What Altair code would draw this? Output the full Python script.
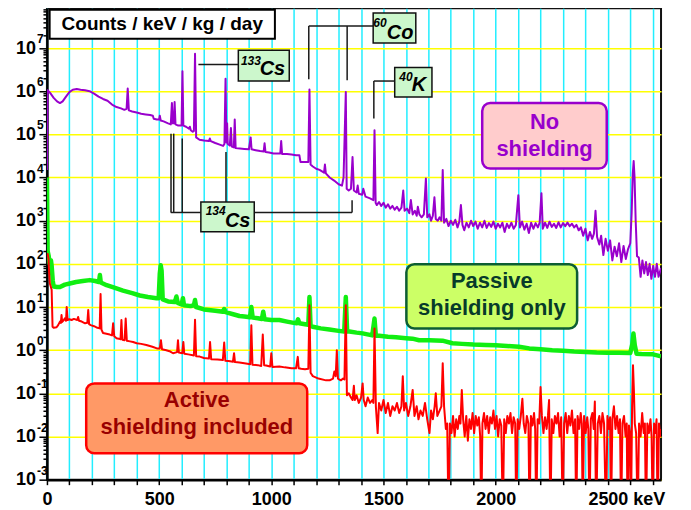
import altair as alt
import pandas as pd

# ---------------- spectra (energy keV, counts/keV/kg/day) ----------------
NO_SHIELD = [
    (0, 1.5e4), (3, 1.05e6), (15, 9.0e5), (30, 7.0e5), (45, 5.8e5), (58, 5.3e5), (70, 5.8e5),
    (85, 7.5e5), (100, 9.5e5), (115, 1.08e6), (133, 1.12e6), (150, 1.08e6), (170, 1.05e6),
    (190, 1.0e6), (210, 8.8e5), (230, 7.5e5), (250, 6.6e5), (270, 6.0e5), (290, 4.9e5),
    (310, 4.3e5), (330, 4.0e5), (345, 3.7e5), (355, 3.9e5), (360, 1.15e6), (365, 3.6e5),
    (380, 3.4e5), (400, 3.2e5), (420, 3.0e5), (440, 2.9e5), (460, 2.8e5), (472, 2.7e5),
    (476, 2.3e5), (490, 2.2e5), (500, 2.2e5), (503, 2.7e5), (507, 2.1e5), (520, 2.0e5),
    (540, 1.8e5), (552, 1.7e5), (557, 5.3e5), (561, 1.8e5), (566, 1.8e5), (569, 5.6e5),
    (573, 1.7e5), (585, 1.6e5), (600, 1.6e5), (604, 2.9e6), (608, 1.6e5), (620, 1.5e5),
    (633, 1.35e5), (637, 1.5e5), (641, 1.25e5), (650, 1.15e5), (655, 1.2e5), (660, 7.4e6),
    (665, 8.5e4), (680, 7.5e4), (700, 7.2e4), (722, 7.0e4), (726, 8.0e4), (730, 7.0e4),
    (750, 6.3e4), (770, 5.8e4), (785, 5.4e4), (791, 6.0e4), (796, 1.95e6), (800, 6.5e4),
    (803, 1.8e5), (806, 6.0e4), (815, 5.5e4), (820, 1.4e5), (824, 5.2e4), (833, 5.0e4),
    (837, 2.2e5), (841, 4.8e4), (860, 4.7e4), (880, 4.6e4), (900, 4.5e4), (908, 8.5e4),
    (912, 4.5e4), (930, 4.3e4), (950, 4.1e4), (966, 4.0e4), (970, 6.2e4), (974, 3.9e4),
    (990, 3.8e4), (1010, 3.6e4), (1030, 3.6e4), (1040, 3.6e4), (1044, 7.0e4), (1048, 3.5e4),
    (1070, 3.5e4), (1090, 3.4e4), (1110, 3.3e4), (1125, 3.3e4), (1130, 2.3e4), (1150, 2.3e4),
    (1165, 2.3e4), (1170, 1.1e6), (1175, 2.0e4), (1185, 1.8e4), (1200, 1.6e4), (1215, 1.5e4),
    (1235, 1.3e4), (1239, 2.0e4), (1243, 1.25e4), (1260, 1.0e4), (1280, 8.5e3), (1300, 7.0e3),
    (1315, 6.5e3), (1322, 1.0e4), (1332, 9.6e5), (1336, 5.5e3), (1345, 5.0e3), (1355, 5.5e3),
    (1362, 3.0e4), (1368, 5.0e3), (1380, 4.5e3), (1385, 6.5e3), (1390, 4.2e3), (1405, 4.0e3),
    (1410, 5.5e3), (1420, 3.6e3), (1440, 3.3e3), (1455, 3.0e3), (1460, 1.25e5), (1465, 2.6e3),
    (1470, 2.3e3), (1480, 2.7e3), (1490, 2.2e3), (1500, 2.6e3), (1510, 2.0e3), (1520, 2.4e3),
    (1530, 1.9e3), (1540, 2.2e3), (1550, 1.8e3), (1560, 2.1e3), (1570, 1.7e3), (1580, 2.0e3),
    (1588, 5.0e3), (1594, 1.7e3), (1605, 1.9e3), (1615, 1.5e3), (1622, 3.0e3), (1630, 1.4e3),
    (1640, 1.7e3), (1648, 1.3e3), (1653, 2.1e3), (1660, 1.4e3), (1670, 1.2e3), (1680, 1.4e3),
    (1689, 9.5e3), (1695, 1.2e3), (1705, 1.4e3), (1712, 1.0e3), (1720, 1.3e3), (1727, 3.5e3),
    (1733, 1.1e3), (1742, 1.0e3), (1750, 1.2e3), (1758, 1.0e3), (1764, 1.5e4), (1770, 9.0e2),
    (1780, 1.1e3), (1790, 7.5e2), (1800, 1.0e3), (1810, 8.0e2), (1820, 1.05e3), (1830, 7.0e2),
    (1838, 9.5e2), (1845, 2.3e3), (1852, 8.0e2), (1860, 6.0e2), (1870, 9.0e2), (1880, 7.0e2),
    (1890, 1.0e3), (1900, 7.5e2), (1910, 9.5e2), (1920, 6.5e2), (1930, 9.0e2), (1940, 7.0e2),
    (1950, 1.0e3), (1960, 6.8e2), (1970, 8.8e2), (1980, 7.2e2), (1990, 9.5e2), (2000, 6.5e2),
    (2010, 8.5e2), (2020, 7.0e2), (2030, 9.0e2), (2040, 5.5e2), (2050, 8.5e2), (2060, 6.8e2),
    (2070, 9.0e2), (2080, 6.5e2), (2090, 8.0e2), (2101, 3.9e3), (2108, 7.0e2), (2118, 9.5e2),
    (2128, 6.2e2), (2138, 8.5e2), (2148, 5.2e2), (2158, 9.0e2), (2168, 6.5e2), (2178, 8.8e2),
    (2188, 7.0e2), (2196, 9.0e2), (2204, 4.3e3), (2210, 6.5e2), (2220, 9.0e2), (2230, 6.8e2),
    (2240, 9.5e2), (2250, 7.2e2), (2260, 8.5e2), (2270, 6.8e2), (2280, 9.2e2), (2290, 7.0e2),
    (2300, 8.8e2), (2310, 7.5e2), (2320, 9.0e2), (2330, 7.5e2), (2340, 8.5e2), (2350, 7.0e2),
    (2360, 8.0e2), (2370, 6.0e2), (2380, 7.0e2), (2390, 4.5e2), (2400, 6.5e2), (2410, 3.5e2),
    (2420, 5.5e2), (2430, 3.8e2), (2438, 5.0e2), (2445, 1.7e3), (2452, 4.2e2), (2462, 2.8e2),
    (2470, 4.5e2), (2480, 1.6e2), (2490, 3.8e2), (2500, 2.0e2), (2510, 3.5e2), (2520, 1.2e2),
    (2530, 2.5e2), (2540, 1.5e2), (2550, 3.0e2), (2560, 1.1e2), (2570, 2.6e2), (2580, 1.3e2),
    (2590, 2.2e2), (2600, 3.0e2), (2606, 1.5e3), (2611, 1.2e4), (2615, 2.4e4), (2619, 1.0e4),
    (2624, 1.0e3), (2630, 1.5e2), (2638, 1.4e2), (2646, 5.0e1), (2654, 1.2e2), (2662, 6.0e1),
    (2670, 1.1e2), (2678, 5.5e1), (2686, 1.0e2), (2694, 4.5e1), (2702, 9.0e1), (2710, 5.0e1),
    (2718, 1.0e2), (2726, 5.0e1), (2737, 8.0e1),
]

PASSIVE = [
    (0, 1.0e4), (3, 2.0e2), (8, 1.5e2), (12, 1.0e2), (18, 1.2e2), (21, 9.0e1), (26, 4.0e1),
    (30, 3.0e1), (45, 2.9e1), (58, 2.9e1), (80, 3.3e1), (102, 3.5e1), (130, 3.8e1),
    (160, 4.0e1), (191, 4.2e1), (215, 4.0e1), (232, 3.8e1), (236, 5.5e1), (240, 3.7e1),
    (266, 3.2e1), (300, 2.8e1), (339, 2.4e1), (380, 2.1e1), (414, 1.85e1), (450, 1.7e1),
    (488, 1.6e1), (498, 1.6e1), (503, 6.0e1), (507, 9.3e1), (511, 7.0e1), (516, 1.5e1),
    (540, 1.35e1), (570, 1.3e1), (577, 1.75e1), (583, 1.25e1), (600, 1.15e1), (606, 1.6e1),
    (611, 1.1e1), (640, 1.05e1), (655, 1.1e1), (660, 1.45e1), (665, 1.0e1), (700, 8.8),
    (750, 8.2), (784, 7.8), (790, 9.0), (796, 7.6), (830, 6.8), (858, 6.2), (880, 6.0),
    (905, 5.8), (911, 10.0), (917, 5.7), (940, 5.5), (958, 5.3), (964, 7.8), (970, 5.2),
    (1000, 5.0), (1036, 5.0), (1070, 4.6), (1100, 4.3), (1113, 4.2), (1119, 5.2), (1125, 4.2),
    (1150, 4.0), (1165, 3.9), (1170, 17.0), (1175, 3.6), (1185, 3.5), (1220, 3.2), (1259, 3.0),
    (1300, 2.8), (1325, 2.7), (1332, 17.0), (1338, 2.7), (1348, 2.7), (1380, 2.55),
    (1407, 2.45), (1450, 2.2), (1460, 5.4), (1466, 2.15), (1481, 2.15), (1520, 2.05),
    (1556, 2.0), (1600, 1.9), (1629, 1.85), (1659, 1.7), (1704, 1.7), (1763, 1.66),
    (1807, 1.45), (1850, 1.4), (1900, 1.35), (1956, 1.32), (2000, 1.3), (2050, 1.25),
    (2104, 1.2), (2150, 1.1), (2200, 1.05), (2252, 1.0), (2300, 0.97), (2350, 0.93),
    (2401, 0.91), (2450, 0.88), (2500, 0.87), (2549, 0.87), (2600, 0.86), (2609, 1.4),
    (2614, 2.45), (2620, 1.3), (2628, 0.83), (2650, 0.82), (2697, 0.81), (2737, 0.72),
]

ACTIVE = [
    (0, 1.5e2), (3, 1.7e2), (7, 1.3e2), (10, 6.0e1), (13, 3.5e1), (17, 3.0e1), (21, 2.5e1),
    (25, 3.5), (30, 3.3), (43, 3.4), (50, 3.8), (58, 4.6), (62, 4.3), (65, 6.5), (68, 4.5),
    (75, 5.0), (80, 5.5), (85, 4.8), (88, 10.0), (92, 5.0), (100, 5.2), (110, 5.0), (120, 5.3),
    (135, 5.0), (139, 5.9), (143, 4.8), (155, 4.6), (170, 4.2), (180, 4.3), (184, 8.5),
    (188, 4.0), (195, 3.8), (210, 3.6), (225, 3.3), (235, 3.2), (239, 20.0), (243, 3.0),
    (250, 2.5), (265, 2.4), (280, 2.3), (290, 2.2), (295, 4.2), (300, 2.1), (310, 1.9),
    (320, 1.85), (328, 1.8), (332, 5.0), (336, 1.75), (346, 1.7), (351, 5.4), (356, 1.65),
    (370, 1.6), (384, 1.55), (400, 1.45), (420, 1.4), (443, 1.32), (470, 1.2), (490, 1.1),
    (503, 1.1), (508, 1.7), (513, 1.05), (532, 1.0), (550, 0.93), (562, 0.85), (580, 0.9),
    (584, 1.7), (588, 0.88), (603, 0.85), (608, 1.55), (612, 0.83), (630, 0.8), (650, 0.76),
    (655, 0.75), (660, 5.1), (665, 0.72), (681, 0.71), (700, 0.66), (710, 0.65), (722, 0.64),
    (727, 1.55), (732, 0.62), (760, 0.61), (784, 0.59), (790, 1.5), (795, 0.57), (810, 0.56),
    (829, 0.54), (834, 0.85), (838, 0.53), (858, 0.52), (880, 0.5), (900, 0.48), (906, 0.47),
    (911, 3.8), (916, 0.46), (940, 0.45), (955, 0.43), (962, 2.3), (968, 0.45), (977, 0.44),
    (995, 0.42), (1000, 0.85), (1005, 0.41), (1036, 0.42), (1060, 0.4), (1090, 0.38),
    (1110, 0.38), (1118, 0.7), (1122, 0.38), (1133, 0.37), (1150, 0.36), (1165, 0.37),
    (1170, 11.0), (1175, 0.3), (1185, 0.25), (1210, 0.22), (1244, 0.2), (1260, 0.2),
    (1275, 0.22), (1281, 0.32), (1287, 0.25), (1292, 1.0), (1297, 0.22), (1310, 0.2),
    (1320, 0.22), (1326, 0.21), (1332, 11.0), (1337, 0.09), (1345, 0.1), (1355, 0.08),
    (1362, 0.07), (1368, 0.15), (1372, 0.07), (1380, 0.09), (1390, 0.06), (1400, 0.08),
    (1407, 0.17), (1412, 0.07), (1420, 0.05), (1430, 0.08), (1440, 0.06), (1450, 0.07),
    (1455, 0.06), (1460, 3.2), (1466, 0.05), (1474, 0.012), (1480, 0.06), (1490, 0.04),
    (1500, 0.07), (1510, 0.035), (1520, 0.06), (1530, 0.03), (1540, 0.05), (1550, 0.04),
    (1560, 0.06), (1570, 0.035), (1580, 0.05), (1586, 0.25), (1592, 0.04), (1600, 0.06),
    (1610, 0.03), (1620, 0.05), (1630, 0.12), (1638, 0.03), (1648, 0.05), (1656, 0.025),
    (1665, 0.04), (1675, 0.03), (1685, 0.06), (1695, 0.025), (1705, 0.012), (1712, 0.04),
    (1720, 0.025), (1728, 0.05), (1733, 0.1), (1740, 0.03), (1750, 0.04), (1758, 0.05),
    (1764, 0.5), (1770, 0.05), (1778, 0.015), (1784, 0.02), (1790, 1e-4), (1796, 0.02),
    (1803, 0.012), (1810, 0.03), (1817, 0.01), (1824, 0.025), (1831, 0.015), (1838, 0.03),
    (1843, 0.02), (1849, 0.12), (1855, 0.025), (1862, 0.01), (1869, 0.03), (1876, 0.008),
    (1883, 0.025), (1890, 0.015), (1897, 0.035), (1904, 0.012), (1911, 0.03), (1918, 0.018),
    (1925, 0.028), (1931, 0.01), (1936, 1e-4), (1941, 0.02), (1948, 0.035), (1955, 0.015),
    (1962, 0.03), (1969, 0.012), (1976, 0.028), (1983, 0.02), (1990, 0.04), (1997, 0.015),
    (2004, 0.03), (2011, 0.01), (2018, 0.025), (2025, 0.018), (2032, 1e-4), (2038, 0.025),
    (2045, 0.012), (2052, 0.03), (2059, 0.02), (2066, 0.035), (2073, 0.012), (2080, 0.028),
    (2087, 0.02), (2092, 1e-4), (2098, 0.025), (2105, 0.015), (2112, 0.03), (2119, 0.075),
    (2125, 0.02), (2132, 0.012), (2139, 0.03), (2146, 0.02), (2151, 1e-4), (2157, 0.03),
    (2164, 0.018), (2171, 0.035), (2176, 0.015), (2181, 1e-4), (2187, 0.025), (2194, 0.02),
    (2200, 0.14), (2206, 0.03), (2213, 0.012), (2220, 0.028), (2227, 0.015), (2233, 0.03),
    (2238, 0.07), (2244, 1e-4), (2250, 0.025), (2257, 0.012), (2264, 0.03), (2271, 0.02),
    (2278, 0.035), (2285, 0.01), (2292, 0.028), (2299, 1e-4), (2305, 0.02), (2312, 0.035),
    (2319, 0.012), (2326, 0.03), (2333, 0.018), (2340, 0.04), (2347, 0.012), (2354, 0.025),
    (2359, 1e-4), (2365, 0.03), (2372, 0.015), (2379, 0.035), (2384, 0.02), (2388, 1e-4),
    (2394, 0.03), (2401, 0.012), (2408, 0.028), (2413, 0.015), (2418, 1e-4), (2424, 0.025),
    (2431, 0.035), (2437, 0.015), (2442, 0.065), (2448, 1e-4), (2455, 0.02), (2462, 0.03),
    (2469, 0.012), (2476, 0.035), (2483, 0.02), (2492, 1e-4), (2498, 0.03), (2505, 0.015),
    (2510, 0.028), (2514, 1e-4), (2520, 0.025), (2527, 0.05), (2534, 0.015), (2541, 0.03),
    (2548, 0.012), (2554, 0.025), (2559, 1e-4), (2565, 0.02), (2572, 0.03), (2579, 0.01),
    (2584, 0.02), (2588, 1e-4), (2594, 0.018), (2599, 0.012), (2603, 1e-4), (2608, 0.05),
    (2612, 0.45), (2616, 0.12), (2620, 0.02), (2626, 0.012), (2633, 1e-4), (2639, 0.02),
    (2646, 0.01), (2653, 0.035), (2660, 0.012), (2665, 0.02), (2670, 1e-4), (2676, 0.02),
    (2683, 0.012), (2690, 0.025), (2695, 0.01), (2700, 1e-4), (2706, 0.02), (2712, 0.012),
    (2717, 0.025), (2722, 1e-4), (2728, 0.02), (2733, 0.01), (2737, 0.015),
]

# ---------------- annotations (in data units: keV, counts) ----------------
# connector segments: x1, y1, x2, y2
CONNECTORS = [
    (675, 4.13e6, 853, 4.13e6),
    (1167, 3.23e7, 1167, 1.88e6), (1167, 3.23e7, 1454, 3.23e7), (1338, 3.23e7, 1338, 1.79e6),
    (1457, 1.72e6, 1550, 1.72e6), (1457, 1.72e6, 1457, 2.32e5),
    (552, 1.55e3, 686, 1.55e3), (924, 1.55e3, 1360, 1.55e3),
    (553, 1.04e5, 553, 1.55e3), (565, 1.04e5, 565, 1.55e3), (603, 8.0e4, 603, 1.55e3),
    (798, 3.92e4, 798, 2.72e3), (1360, 2.99e3, 1360, 1.55e3),
]
# boxes: x1, x2, y1, y2, fill, stroke, stroke width, corner radius
BOXES = [
    (12, 1016, 1.65e7, 7.76e7, "#ffffff", "#000000", 2.0, 0),
    (853, 1080, 1.72e6, 8.85e6, "#ccf7cc", "#111111", 1.5, 0),
    (1454, 1644, 1.31e7, 6.46e7, "#ccf7cc", "#111111", 1.5, 0),
    (1550, 1716, 7.35e5, 3.52e6, "#ccf7cc", "#111111", 1.5, 0),
    (686, 924, 551, 2.72e3, "#ccf7cc", "#111111", 1.5, 0),
    (1940, 2495, 1.61e4, 5.33e5, "#ffcccc", "#9900cc", 2.5, 8),
    (1602, 2363, 3.2, 98.4, "#ccff66", "#0d5e33", 2.5, 8),
    (175, 1160, 4.08e-3, 0.17, "#ff9966", "#ff0000", 2.5, 8),
]
# plain labels: x, y, text, colour, size
LABELS = [
    (514, 3.67e7, "Counts / keV / kg / day", "#000000", 19),
    (2218, 1.94e5, "No", "#9900cc", 22),
    (2218, 4.69e4, "shielding", "#9900cc", 22),
    (1983, 40.4, "Passive", "#073b2a", 22),
    (1983, 9.29, "shielding only", "#073b2a", 22),
    (668, 0.070, "Active", "#990000", 22),
    (668, 0.0169, "shielding included", "#990000", 22),
]
# isotope labels (bold italic): x, y, text, size
ISOTOPES = [
    (909, 4.98e6, "133", 12), (1005, 3.25e6, "Cs", 20),
    (1484, 3.83e7, "60", 12), (1574, 2.25e7, "Co", 20),
    (1600, 2.12e6, "40", 12), (1658, 1.37e6, "K", 20),
    (752, 1.72e3, "134", 12), (850, 984, "Cs", 20),
]

X_TICKS = list(range(0, 2701, 100))
Y_DECADES = list(range(-3, 8))
Y_TICKS = [m * 10.0 ** k for k in range(-3, 8) for m in range(1, 10) if m * 10.0 ** k <= 8.3e7]

FONT = "Liberation Sans"

xscale = alt.Scale(domain=[0, 2737], nice=False, zero=False)
yscale = alt.Scale(type="log", domain=[1e-3, 8.3e7], nice=False)

DEC = "abs(log(datum.value)/LN10 - round(log(datum.value)/LN10)) < 0.001"

xaxis = alt.Axis(
    values=X_TICKS, title=None, grid=True, gridColor="#22eeff", gridWidth=1.5,
    tickSize=5, tickColor="#000000", tickWidth=1.5, domainColor="#000000", domainWidth=2.5,
    labelExpr="datum.value % 500 == 0 ? (datum.value == 2500 ? '2500 keV' : format(datum.value, 'd')) : ''",
    labelAlign={"condition": {"test": "datum.value == 2500", "value": "left"}, "value": "center"},
    labelOffset={"condition": {"test": "datum.value == 2500", "value": -20}, "value": 0},
    labelFlush=False, labelOverlap=False, labelFont=FONT, labelFontWeight="bold",
    labelFontSize=18, labelColor="#000000", labelPadding=6,
)
yaxis = alt.Axis(
    values=Y_TICKS, title=None, grid=True, gridColor="#ffff00", gridWidth=1.5,
    gridOpacity={"condition": {"test": DEC, "value": 1}, "value": 0},
    tickSize={"condition": {"test": DEC, "value": 8}, "value": 4},
    tickColor="#000000", tickWidth=1.5, domainColor="#000000", domainWidth=2.5,
    labelExpr=f"({DEC}) ? '10' : ''", labelOverlap=False, labelFlush=False, labelFont=FONT,
    labelFontWeight="bold", labelFontSize=18, labelColor="#000000", labelPadding=3.5,
    labelBaseline="middle",
)


def X(field):
    return alt.X(field, type="quantitative", scale=xscale, axis=xaxis, title=None)


def Y(field):
    return alt.Y(field, type="quantitative", scale=yscale, axis=yaxis, title=None)


def line_layer(points, colour, width):
    df = pd.DataFrame(points, columns=["E", "v"])
    return alt.Chart(df).mark_line(
        clip=True, color=colour, strokeWidth=width, strokeJoin="round"
    ).encode(x=X("E"), y=Y("v"), order="E:Q")


purple = line_layer(NO_SHIELD, "#9900cc", 2)
green = line_layer(PASSIVE, "#11ee11", 4.5)
red = line_layer(ACTIVE, "#ff0000", 2)

conn_df = pd.DataFrame(CONNECTORS, columns=["x1", "y1", "x2", "y2"])
connectors = alt.Chart(conn_df).mark_rule(color="#1a1a1a", strokeWidth=1.5).encode(
    x=X("x1"), x2="x2:Q", y=Y("y1"), y2="y2:Q",
)

box_df = pd.DataFrame(BOXES, columns=["x1", "x2", "y1", "y2", "fill", "stroke", "sw", "r"])
box_layers = []
for r_val in sorted(box_df["r"].unique()):
    sub = box_df[box_df["r"] == r_val]
    box_layers.append(
        alt.Chart(sub).mark_rect(cornerRadius=float(r_val)).encode(
            x=X("x1"), x2="x2:Q", y=Y("y1"), y2="y2:Q",
            fill=alt.Fill("fill:N", scale=None),
            stroke=alt.Stroke("stroke:N", scale=None),
            strokeWidth=alt.StrokeWidth("sw:Q", scale=None),
        )
    )

lab_df = pd.DataFrame(LABELS, columns=["x", "y", "text", "colour", "size"])
labels = alt.Chart(lab_df).mark_text(font=FONT, fontWeight="bold", baseline="middle", align="center").encode(
    x=X("x"), y=Y("y"),
    text="text:N",
    color=alt.Color("colour:N", scale=None),
    size=alt.Size("size:Q", scale=None),
)

iso_df = pd.DataFrame(ISOTOPES, columns=["x", "y", "text", "size"])
isotopes = alt.Chart(iso_df).mark_text(
    font=FONT, fontWeight="bold", fontStyle="italic", baseline="middle", align="center", color="#000000"
).encode(
    x=X("x"), y=Y("y"),
    text="text:N",
    size=alt.Size("size:Q", scale=None),
)

# exponents of the y-axis decade labels (10^k)
exp_df = pd.DataFrame({"k": Y_DECADES, "v": [10.0 ** k for k in Y_DECADES],
                       "t": [str(k) for k in Y_DECADES]})
exponents = alt.Chart(exp_df).mark_text(
    font=FONT, fontWeight="bold", fontSize=12, align="left", baseline="middle",
    dy=-9, color="#000000",
).encode(
    x=alt.value(-10),
    y=Y("v"),
    text="t:N",
)

chart = alt.layer(
    purple, green, red, connectors, *box_layers, labels, isotopes, exponents
).properties(
    width=615, height=472,
    autosize=alt.AutoSizeParams(type="none"),
    padding={"left": 39, "top": 0, "right": 22, "bottom": 30},
    background="#ffffff",
).configure_view(
    stroke="#111111", strokeWidth=2
)

chart.save("out.html", embed_options={"renderer": "svg", "actions": False})
